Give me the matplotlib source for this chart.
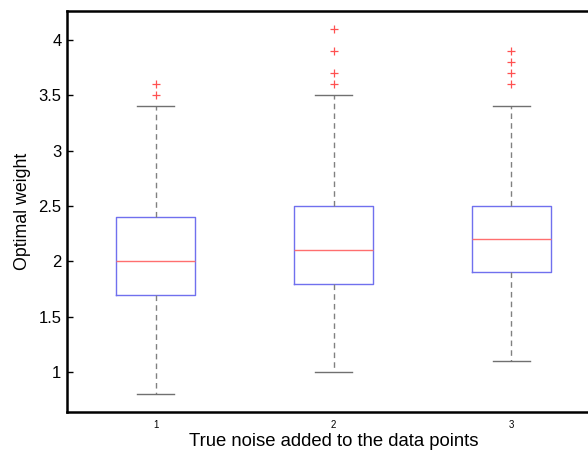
import matplotlib
matplotlib.use("Agg")
import matplotlib.pyplot as plt

plt.rcParams["font.family"] = ["Liberation Sans", "DejaVu Sans"]

groups = ["1", "2", "3"]
q1 = [1.7, 1.8, 1.9]
medians = [2.0, 2.1, 2.2]
q3 = [2.4, 2.5, 2.5]
whisker_low = [0.8, 1.0, 1.1]
whisker_high = [3.4, 3.5, 3.4]
outliers = [[3.5, 3.6], [3.6, 3.7, 3.9, 4.1], [3.6, 3.7, 3.8, 3.9]]
yticks = [1, 1.5, 2, 2.5, 3, 3.5, 4]
ytick_labels = ["1", "1.5", "2", "2.5", "3", "3.5", "4"]

W, H = 588, 453
fig = plt.figure(figsize=(W / 100, H / 100), dpi=100)
ax = fig.add_axes([67 / W, 1 - 412 / H, (600 - 67) / W, (412 - 11) / H])

stats = []
for i, g in enumerate(groups):
    stats.append(dict(label=g, q1=q1[i], med=medians[i], q3=q3[i],
                      whislo=whisker_low[i], whishi=whisker_high[i],
                      fliers=outliers[i]))

ax.bxp(stats, positions=[1, 2, 3], widths=0.445, showfliers=True,
       boxprops=dict(color="#7070ee", linewidth=1.0),
       medianprops=dict(color="#ff6f6f", linewidth=1.0),
       whiskerprops=dict(color="#808080", linestyle=(0, (4, 3)), linewidth=1.0),
       capprops=dict(color="#707070", linewidth=1.0),
       capwidths=0.21,
       flierprops=dict(marker="+", markeredgecolor="#ff5050", markersize=6,
                       linestyle="none", markeredgewidth=0.9))

ax.set_xlim(0.5, 3.5)
ax.set_ylim(0.64, 4.26)
ax.set_yticks(yticks)
ax.set_yticklabels(ytick_labels, fontsize=12)
ax.set_xticks([1, 2, 3])
ax.set_xticklabels(groups, fontsize=7)
ax.tick_params(axis="y", direction="in", length=4, width=1, pad=4)
ax.tick_params(axis="x", length=0, pad=6)
for s in ["left", "top", "bottom"]:
    ax.spines[s].set_linewidth(1.8)
ax.spines["right"].set_visible(False)

ax.set_ylabel("Optimal weight", fontsize=12.8, labelpad=5)
ax.set_xlabel("True noise added to the data points", fontsize=13.3, labelpad=2)

fig.savefig("out.png", dpi=100)
